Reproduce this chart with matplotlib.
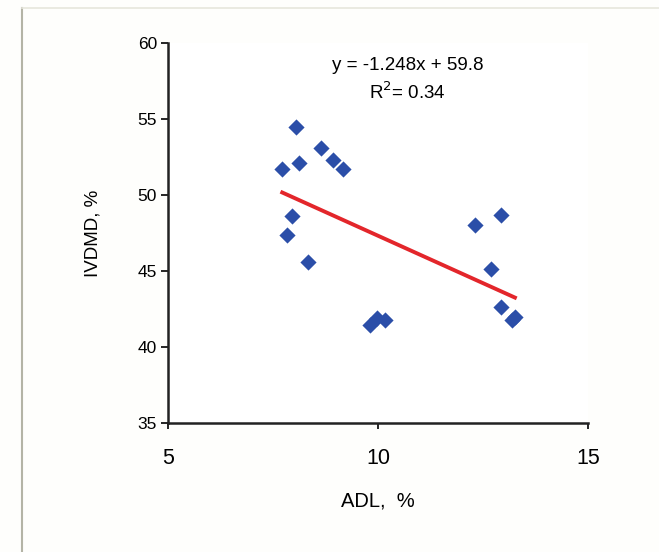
import numpy as np
import matplotlib.pyplot as plt
from matplotlib.lines import Line2D

plt.rcParams['font.family'] = ['Liberation Sans', 'DejaVu Sans']

# ADL, % vs IVDMD, %
adl = [8.05, 8.64, 8.94, 9.16, 7.72, 8.12, 7.95, 7.83, 8.34,
       12.31, 12.92, 12.70, 12.94, 13.26, 13.18, 9.81, 9.97, 10.17]
ivdmd = [54.5, 53.1, 52.3, 51.7, 51.7, 52.1, 48.6, 47.4, 45.6,
         48.0, 48.7, 45.1, 42.65, 42.0, 41.8, 41.45, 41.9, 41.8]

slope = -1.248
intercept = 59.8
r2 = 0.34

x_ticks = [5, 10, 15]
y_ticks = [35, 40, 45, 50, 55, 60]

fig = plt.figure(figsize=(6.59, 5.52), dpi=100)
fig.patch.set_facecolor('#fefefc')

# frame lines of the original sheet
fig.add_artist(Line2D([22/659, 22/659], [0, 1 - 8/552], color='#b4b4a6', lw=1.5))
fig.add_artist(Line2D([22/659, 1], [1 - 8/552, 1 - 8/552], color='#e6e6dc', lw=1.2))

ax = fig.add_axes([168/659, 1 - 423/552, (588 - 168)/659, (423 - 43)/552])
ax.set_facecolor('white')

ax.scatter(adl, ivdmd, marker='D', s=68, color='#2b4ea8', zorder=3, linewidths=0)

xs = np.array([min(adl), max(adl)])
ax.plot(xs, slope * xs + intercept, color='#e3262b', lw=2.8, zorder=2)

ax.set_xlim(5, 15)
ax.set_ylim(35, 60)
ax.set_xticks(x_ticks)
ax.set_yticks(y_ticks)
ax.tick_params(axis='x', labelsize=15.5, length=4, width=1.2, pad=14)
ax.tick_params(axis='y', labelsize=12.5, length=5, width=1.2, pad=3)
for s in ['top', 'right']:
    ax.spines[s].set_visible(False)
for s in ['left', 'bottom']:
    ax.spines[s].set_linewidth(1.8)
    ax.spines[s].set_color('#222222')

ax.set_xlabel('ADL,  %', fontsize=14.5, labelpad=16)
ax.set_ylabel('IVDMD, %', fontsize=13.5, labelpad=26)

ax.text(0.57, 0.94, 'y = -1.248x + 59.8', transform=ax.transAxes,
        fontsize=13.5, ha='center', va='center')
ax.text(0.57, 0.87, 'R$^2$= %.2f' % r2, transform=ax.transAxes,
        fontsize=13.5, ha='center', va='center')

fig.savefig('out.png', dpi=100, facecolor=fig.get_facecolor())
